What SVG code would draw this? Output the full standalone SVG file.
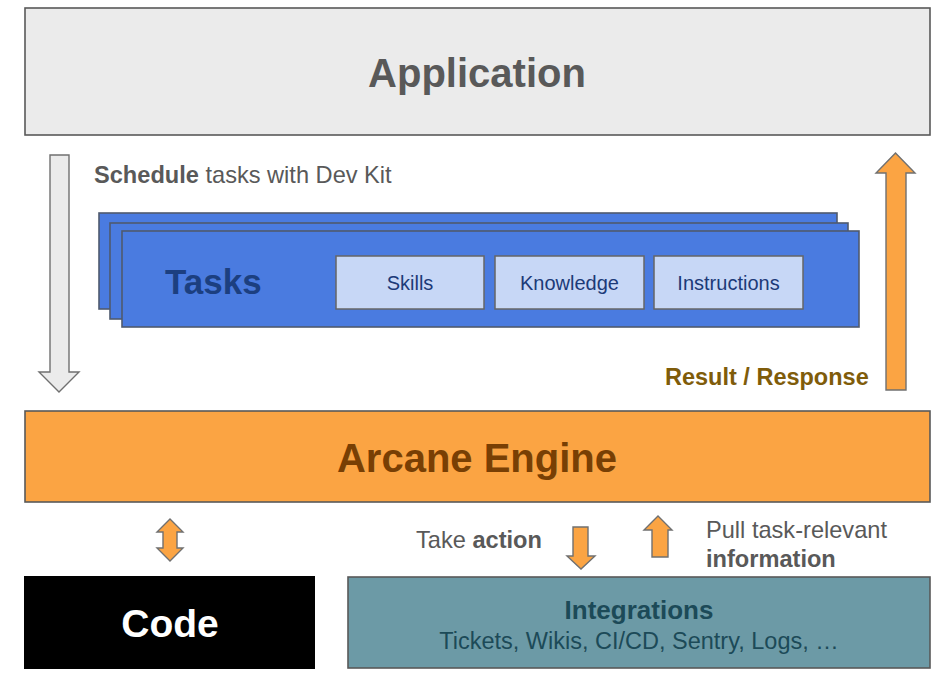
<svg xmlns="http://www.w3.org/2000/svg" width="941" height="680" viewBox="0 0 941 680">
<style>
text{font-family:"Liberation Sans",Arial,sans-serif}
.box{stroke:#595959;stroke-width:1.6}
.lbl{font-size:23.6px;fill:#595959}
.b{font-weight:bold}
.task{fill:#4a7be0;stroke:#4f5a6e;stroke-width:1.6}
.chip{fill:#c7d7f6;stroke:#666;stroke-width:1.5}
.chipt{font-size:20px;fill:#1c3a78;text-anchor:middle}
.arr{stroke:#707070;stroke-width:1.4;stroke-linejoin:miter}
.or{fill:#fba443}
</style>
<rect width="941" height="680" fill="#ffffff"/>
<g id="application">
<rect class="box" x="25" y="8" width="905" height="127" fill="#ebebeb"/>
<text x="477" y="87" font-size="40" font-weight="bold" fill="#595959" text-anchor="middle">Application</text>
</g>
<g id="schedule-label">
<text class="lbl" x="94" y="183"><tspan class="b">Schedule</tspan> tasks with Dev Kit</text>
</g>
<g id="tasks">
<rect class="task" x="99" y="213" width="738" height="96"/>
<rect class="task" x="110" y="223" width="738" height="96"/>
<rect class="task" x="122" y="231" width="737" height="96"/>
<text x="165" y="294" font-size="35" font-weight="bold" fill="#1c3f80">Tasks</text>
</g>
<g id="skills">
<rect class="chip" x="336" y="256" width="148" height="53"/>
<text class="chipt" x="410" y="290">Skills</text>
</g>
<g id="knowledge">
<rect class="chip" x="495" y="256" width="149" height="53"/>
<text class="chipt" x="569.5" y="290">Knowledge</text>
</g>
<g id="instructions">
<rect class="chip" x="654" y="256" width="149" height="53"/>
<text class="chipt" x="728.5" y="290">Instructions</text>
</g>
<g id="result-label">
<text x="665" y="385" font-size="23.5" font-weight="bold" fill="#7f5c0a">Result / Response</text>
</g>
<g id="arcane-engine">
<rect class="box" x="25" y="411" width="905" height="91" fill="#fba443"/>
<text x="477" y="472" font-size="40" font-weight="bold" fill="#783f04" text-anchor="middle">Arcane Engine</text>
</g>
<g id="code">
<rect x="24" y="576" width="291" height="93" fill="#000000"/>
<text x="170" y="637" font-size="39" font-weight="bold" fill="#ffffff" text-anchor="middle">Code</text>
</g>
<g id="integrations">
<rect class="box" x="348" y="577" width="582" height="91" fill="#6c9aa6"/>
<text x="639" y="619" font-size="26" font-weight="bold" fill="#1c4a58" text-anchor="middle">Integrations</text>
<text x="639" y="649" font-size="23.5" fill="#1c4a58" text-anchor="middle">Tickets, Wikis, CI/CD, Sentry, Logs, …</text>
</g>
<g id="take-action-label">
<text class="lbl" x="416" y="548">Take <tspan class="b">action</tspan></text>
</g>
<g id="pull-label">
<text class="lbl" x="706" y="538">Pull task-relevant</text>
<text class="lbl b" x="706" y="567">information</text>
</g>
<g id="connectors">
<path class="arr" d="M50,155 L69,155 L69,372 L79,372 L59,392 L39,372 L50,372 Z" fill="#ebebeb"/>
<path class="arr or" d="M886,390 L906,390 L906,173 L915,173 L895.5,153 L876,173 L886,173 Z"/>
<path class="arr or" d="M170,519 L183,532 L177,532 L177,548 L183,548 L170,561 L157,548 L163,548 L163,532 L157,532 Z"/>
<path class="arr or" d="M573,527 L588,527 L588,556 L595,556 L581,569 L567,556 L573,556 Z"/>
<path class="arr or" d="M652,557 L668,557 L668,530 L672,530 L658,516 L644,530 L652,530 Z"/>
</g>
</svg>
